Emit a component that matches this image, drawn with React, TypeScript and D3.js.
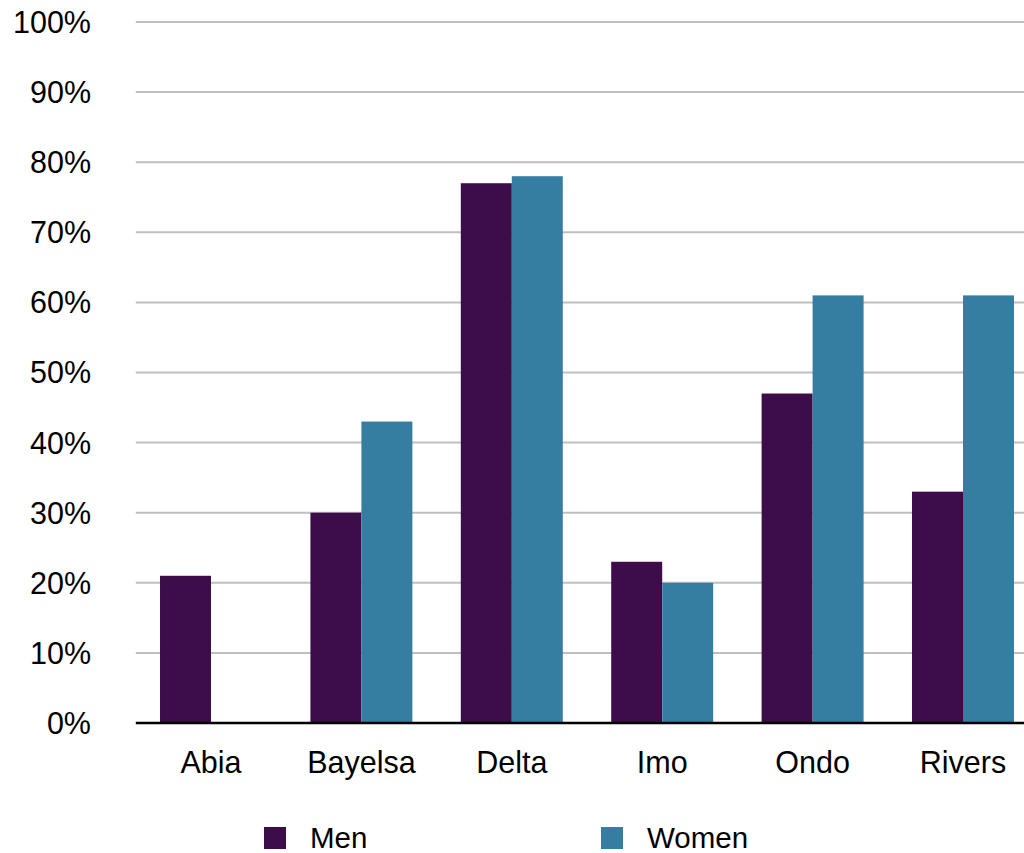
import React from "react";
import * as d3 from "d3";

const categories = ["Abia", "Bayelsa", "Delta", "Imo", "Ondo", "Rivers"];
const seriesNames = ["Men", "Women"];
const menValues = [21, 30, 77, 23, 47, 33];
const womenValues = [0, 43, 78, 20, 61, 61];
const yTicks = [0, 10, 20, 30, 40, 50, 60, 70, 80, 90, 100];
const colors = ["#3c0d48", "#367ea1"];

const W = 1024;
const H = 853;
const FONT = "'Liberation Sans', Arial, sans-serif";

export default function App() {
  const left = 135.8;
  const right = 1038.2;
  const top = 22;
  const bottom = 723;

  const x = d3.scaleBand<string>().domain(categories).range([left, right]).paddingInner(0).paddingOuter(0);
  const y = d3.scaleLinear().domain([0, 100]).range([bottom, top]);
  const groupPad = 0.161;
  const x1 = d3
    .scaleBand<string>()
    .domain(seriesNames)
    .range([x.bandwidth() * groupPad, x.bandwidth() * (1 - groupPad)]);

  const seriesData = [menValues, womenValues];

  return (
    <div style={{ position: "absolute", left: 0, top: 0 }}>
      <svg width={W} height={H} style={{ display: "block", background: "#fff" }}>
        {yTicks.map((t) =>
          t === 0 ? null : (
            <line key={"g" + t} x1={left} x2={W} y1={y(t)} y2={y(t)} stroke="#bfbfbf" strokeWidth={2} />
          )
        )}
        {yTicks.map((t) => (
          <text
            key={"t" + t}
            x={91}
            y={y(t)}
            dy="0.36em"
            textAnchor="end"
            fontFamily={FONT}
            fontSize={30.5}
            fill="#000"
          >
            {t + "%"}
          </text>
        ))}
        {categories.map((c, i) => (
          <g key={c} transform={`translate(${x(c)},0)`}>
            {seriesNames.map((s, j) => {
              const v = seriesData[j][i];
              if (v <= 0) return null;
              return (
                <rect
                  key={s}
                  x={x1(s)}
                  y={y(v)}
                  width={x1.bandwidth()}
                  height={y(0) - y(v)}
                  fill={colors[j]}
                />
              );
            })}
          </g>
        ))}
        <line x1={left} x2={W} y1={y(0)} y2={y(0)} stroke="#000" strokeWidth={2.5} />
        {categories.map((c) => (
          <text
            key={"c" + c}
            x={(x(c) as number) + x.bandwidth() / 2}
            y={773}
            textAnchor="middle"
            fontFamily={FONT}
            fontSize={30.5}
            fill="#000"
          >
            {c}
          </text>
        ))}
        {seriesNames.map((s, j) => {
          const lx = j === 0 ? 264 : 601;
          return (
            <g key={"l" + s}>
              <rect x={lx} y={827} width={22} height={22} fill={colors[j]} />
              <text x={lx + 46} y={848} fontFamily={FONT} fontSize={29.5} fill="#000">
                {s}
              </text>
            </g>
          );
        })}
      </svg>
    </div>
  );
}
